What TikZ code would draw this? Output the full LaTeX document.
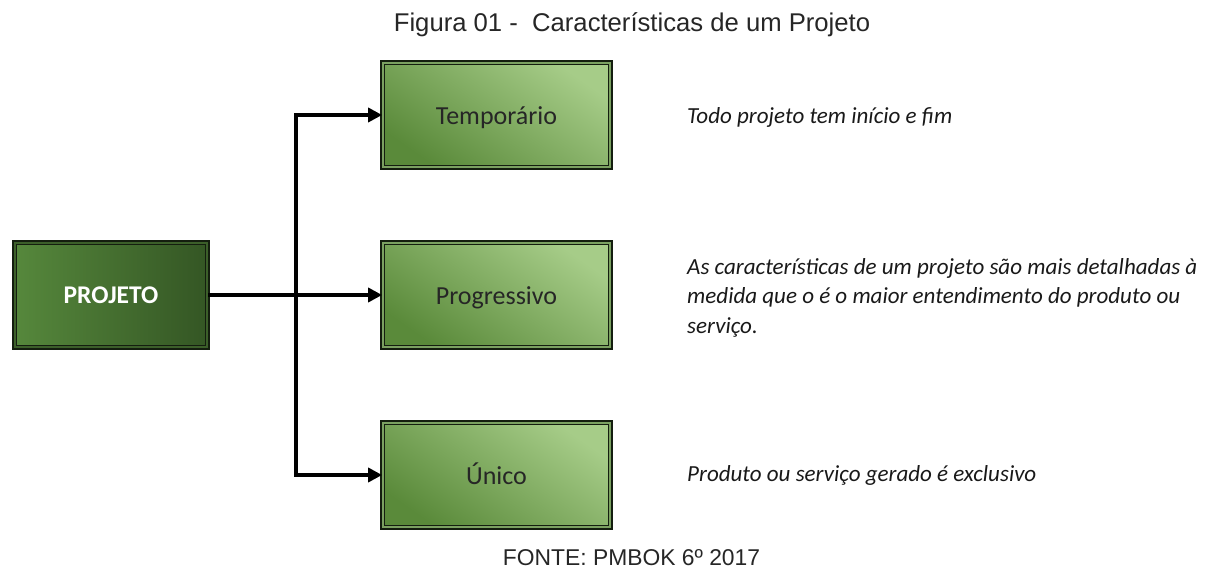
\documentclass[tikz,border=0pt]{standalone}
\usepackage{xcolor}
\usepackage{fontspec}
\setmainfont{Carlito}
\newfontfamily\arialfont{Liberation Sans}
\usepackage{tikz}
\usetikzlibrary{positioning, shapes, calc, arrows.meta}
\definecolor{verdeclaro}{RGB}{166,204,136}
\definecolor{verdemedio}{RGB}{90,138,58}
\definecolor{verdeesq}{RGB}{86,136,60}
\definecolor{verdedir}{RGB}{52,86,36}
\definecolor{borda}{RGB}{20,30,15}

\begin{document}
\begin{tikzpicture}[
	caixa/.style={draw=borda, line width=0.7pt, double=verdemedio!80, double distance=1.2pt,
		minimum width=4.55cm, minimum height=2.09cm, font=\fontsize{14.8}{17}\selectfont, text=black!85,
		text height=2.3ex, text depth=0pt,
		top color=verdeclaro, bottom color=verdemedio, shading angle=-35},
	principal/.style={draw=borda, line width=0.7pt, double=verdeesq!70!black, double distance=1.2pt,
		minimum width=3.85cm, minimum height=2.09cm, font=\fontsize{14.5}{17}\selectfont\bfseries, text=white,
		left color=verdeesq, right color=verdedir},
	seta/.style={-{Triangle[length=8pt,width=8pt]}, line width=2pt},
	descricao/.style={anchor=west, align=left, font=\fontsize{13.1}{16.8}\selectfont\itshape, text=black!90}]
				\useasboundingbox (0,0) rectangle (24.14,11.4);
				%% titulo e fonte
				\node[font=\arialfont\fontsize{14.6}{17}\selectfont, text=black!85] (titulo) at (12.64, 10.9) {Figura 01 -\ \ Características de um Projeto};
				\node[font=\arialfont\fontsize{13}{15}\selectfont, text=black!85] (fonte) at (12.63, 0.24) {FONTE: PMBOK 6º 2017};
				
				\node[principal] (projeto) at (2.22, 5.5) {PROJETO};
				\node[caixa] (temporario) at (9.93, 9.1) {Temporário};
				\node[caixa] (progressivo) at (9.93, 5.5) {Progressivo};
				\node[caixa] (unico) at (9.93, 1.9) {Único};
				
				\coordinate (juncao) at (5.92, 5.5);
				\draw [seta] (juncao) |- (temporario.west);
				\draw [seta] (juncao) |- (unico.west);
				\draw [seta] (projeto.east) -- (progressivo.west);
				
				\node[descricao] (dtemp) at (13.62, 9.05) {Todo projeto tem início e fim};
				\node[descricao] (dprog) at (13.62, 5.45) {As características de um projeto são mais detalhadas à\\medida que o é o maior entendimento do produto ou\\serviço.};
				\node[descricao] (dunico) at (13.62, 1.9) {Produto ou serviço gerado é exclusivo};
\end{tikzpicture}
\end{document}
